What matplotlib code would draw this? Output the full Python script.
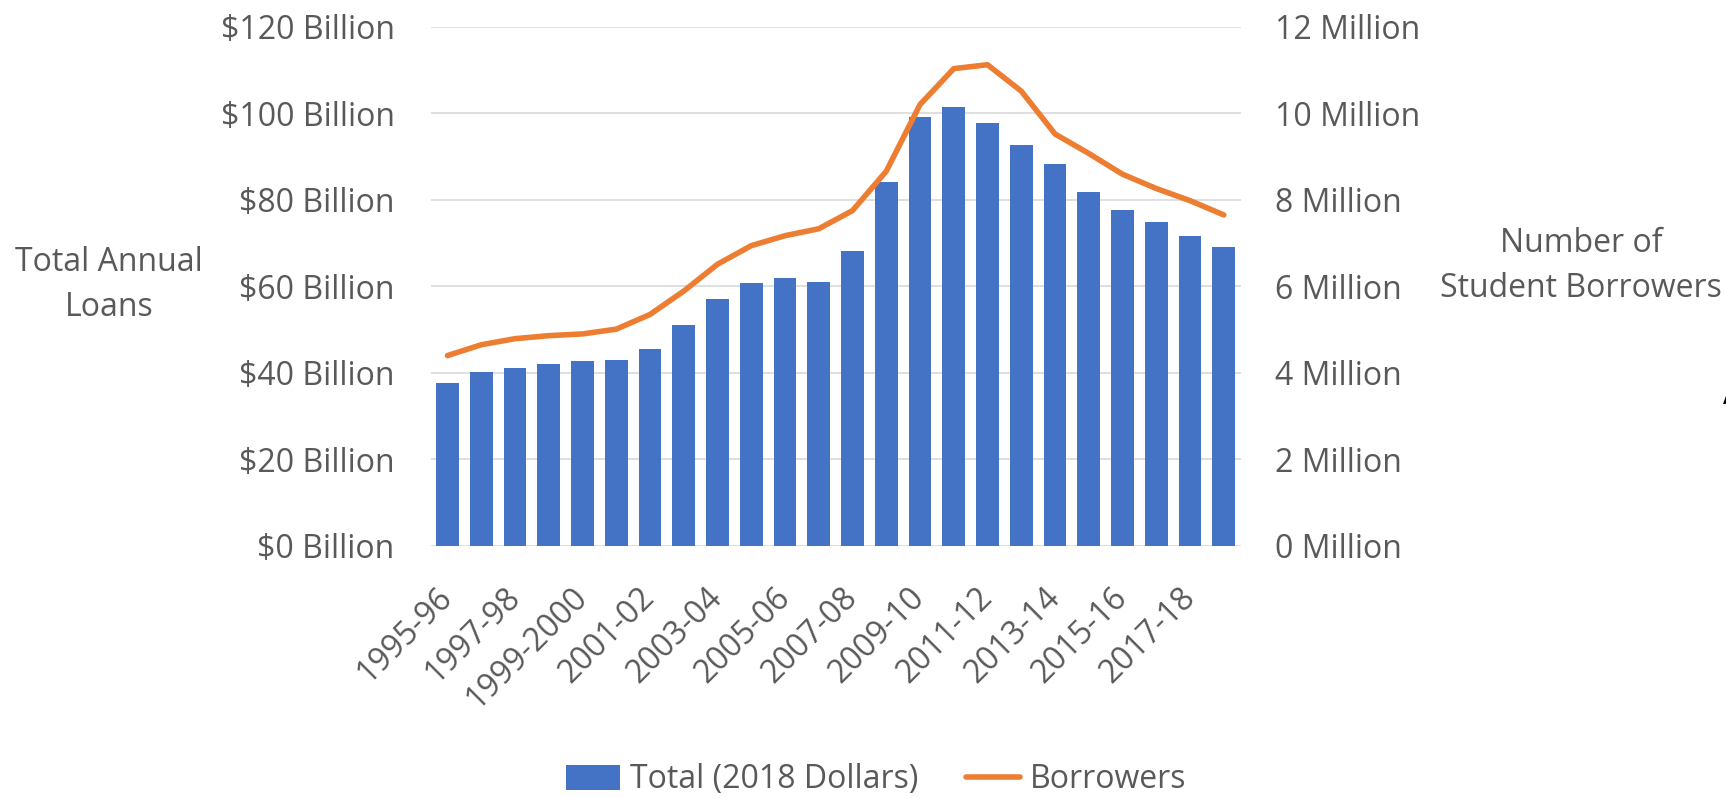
import matplotlib.pyplot as plt
from matplotlib.patches import Patch
from matplotlib.lines import Line2D

# academic years, 1995-96 through 2018-19
years = [
    "1995-96", "1996-97", "1997-98", "1998-99", "1999-2000", "2000-01",
    "2001-02", "2002-03", "2003-04", "2004-05", "2005-06", "2006-07",
    "2007-08", "2008-09", "2009-10", "2010-11", "2011-12", "2012-13",
    "2013-14", "2014-15", "2015-16", "2016-17", "2017-18", "2018-19",
]
# total annual loans, billions of 2018 dollars
loans = [
    37.6, 40.2, 41.2, 42.0, 42.8, 42.9, 45.5, 51.0, 57.1, 60.8, 62.0, 61.1,
    68.2, 84.1, 99.1, 101.5, 97.7, 92.7, 88.2, 81.8, 77.7, 74.9, 71.6, 69.2,
]
# number of student borrowers, millions
borrowers = [
    4.40, 4.65, 4.79, 4.86, 4.90, 5.01, 5.35, 5.89, 6.51, 6.94, 7.17, 7.33,
    7.75, 8.66, 10.20, 11.03, 11.12, 10.51, 9.52, 9.07, 8.59, 8.26, 7.98, 7.65,
]
left_ticks = [0, 20, 40, 60, 80, 100, 120]
right_ticks = [0, 2, 4, 6, 8, 10, 12]

BLUE = "#4472C4"
ORANGE = "#ED7D31"
GRID = "#D9D9D9"
TEXT = "#595959"
FS = 23

plt.rcParams["font.family"] = ["Open Sans", "DejaVu Sans"]

fig = plt.figure(figsize=(17.26, 7.98), dpi=100)
ax = fig.add_axes([0.2495, 0.3158, 0.4693, 0.6508])
ax2 = ax.twinx()

x = list(range(len(years)))
ax.bar(x, loans, width=0.68, color=BLUE, zorder=2)
ax2.plot(x, borrowers, color=ORANGE, lw=4, solid_capstyle="round",
         solid_joinstyle="round", zorder=3)

ax.set_xlim(-0.5, len(years) - 0.5)
ax.set_ylim(0, 120)
ax2.set_ylim(0, 12)

ax.set_yticks(left_ticks)
ax.set_yticklabels([f"${v} Billion" for v in left_ticks])
ax2.set_yticks(right_ticks)
ax2.set_yticklabels([f"{v} Million" for v in right_ticks])

ax.set_xticks(x[::2])
ax.set_xticklabels(years[::2], rotation=45, ha="right", va="center",
                   rotation_mode="anchor")

ax.set_axisbelow(True)
ax.grid(True, axis="y", color=GRID, lw=1.2)
ax.grid(False, axis="x")

for a in (ax, ax2):
    for s in a.spines.values():
        s.set_visible(False)
    a.tick_params(length=0, labelsize=FS, labelcolor=TEXT)
ax.tick_params(axis="y", pad=26)
ax2.tick_params(axis="y", pad=25)
ax.tick_params(axis="x", pad=34)

fig.text(109 / 1726, 1 - 285 / 798, "Total Annual\nLoans", ha="center",
         va="center", fontsize=FS, color=TEXT, linespacing=1.45)
fig.text(1581 / 1726, 1 - 266 / 798, "Number of\nStudent Borrowers",
         ha="center", va="center", fontsize=FS, color=TEXT, linespacing=1.45)
fig.text(1722.5 / 1726, 1 - 404 / 798, "A", ha="left", va="baseline",
         fontsize=FS, color="black")

handles = [
    Patch(facecolor=BLUE, label="Total (2018 Dollars)"),
    Line2D([0], [0], color=ORANGE, lw=4, solid_capstyle="round",
           label="Borrowers"),
]
fig.legend(handles=handles, loc="center", bbox_to_anchor=(0.5075, 0.0226),
           ncol=2, frameon=False, fontsize=FS, labelcolor=TEXT,
           handlelength=1.7, handleheight=0.8, handletextpad=0.3,
           columnspacing=1.5)

fig.savefig("out.png", dpi=100)
